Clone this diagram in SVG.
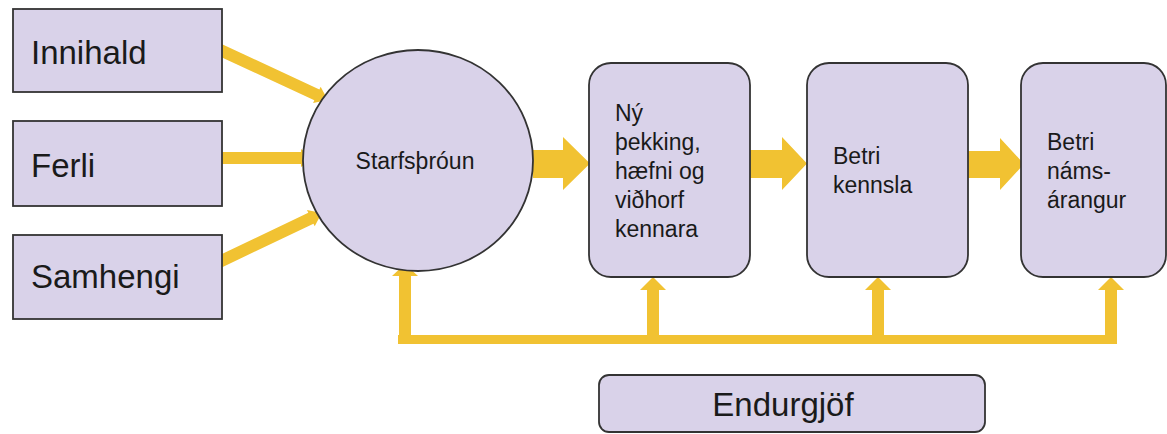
<svg xmlns="http://www.w3.org/2000/svg" width="1167" height="434" viewBox="0 0 1167 434">
<style>
.box{fill:#d9d2e9;stroke:#333;stroke-width:1.8}
.big{font-family:"Liberation Sans",Arial,sans-serif;font-size:33px;fill:#1a1a1a}
.mid{font-family:"Liberation Sans",Arial,sans-serif;font-size:23px;fill:#1a1a1a}
.arr{fill:#f1c232}
</style>
<rect width="1167" height="434" fill="#fff"/>
<g id="connectors">
<polygon class="arr" transform="translate(218,49) rotate(24.9)" points="0,-6 109,-6 109,-9 121,0 109,9 109,6 0,6"/>
<polygon class="arr" points="220,152 301,152 301,149 313,158 301,167 301,164 220,164"/>
<polygon class="arr" transform="translate(217,263) rotate(-25.5)" points="0,-6 104,-6 104,-9 116,0 104,9 104,6 0,6"/>
<polygon class="arr" points="533,150 563,150 563,137 590,163.5 563,190 563,178 533,178"/>
<polygon class="arr" points="750,150 782,150 782,137 807,163.5 782,190 782,178 750,178"/>
<polygon class="arr" points="968,151 1000,151 1000,138 1024,164 1000,190 1000,178 968,178"/>
<rect class="arr" x="398" y="335" width="719" height="9"/>
<rect class="arr" x="399" y="274" width="12" height="70"/>
<polygon class="arr" points="392,276 418,276 405,264"/>
<rect class="arr" x="647" y="288" width="12" height="56"/>
<polygon class="arr" points="640,290 666,290 653,277"/>
<rect class="arr" x="872" y="288" width="12" height="56"/>
<polygon class="arr" points="865,290 891,290 878,277"/>
<rect class="arr" x="1105" y="288" width="12" height="56"/>
<polygon class="arr" points="1098,290 1124,290 1111,277"/>
</g>
<g id="innihald"><rect class="box" x="13" y="9" width="209" height="83"/><text class="big" x="31" y="64">Innihald</text></g>
<g id="ferli"><rect class="box" x="13" y="121" width="209" height="85"/><text class="big" x="31" y="177">Ferli</text></g>
<g id="samhengi"><rect class="box" x="13" y="235" width="209" height="84"/><text class="big" x="31" y="288">Samhengi</text></g>
<g id="starfsthroun"><ellipse class="box" cx="418" cy="160.5" rx="115" ry="110.5"/><text class="mid" x="415" y="169" text-anchor="middle">Starfsþróun</text></g>
<g id="ny-thekking"><rect class="box" x="589" y="63" width="161" height="214" rx="22"/>
<text class="mid" x="615"><tspan x="615" y="121">Ný</tspan><tspan x="615" y="150">þekking,</tspan><tspan x="615" y="179">hæfni og</tspan><tspan x="615" y="208">viðhorf</tspan><tspan x="615" y="237">kennara</tspan></text></g>
<g id="betri-kennsla"><rect class="box" x="807" y="63" width="161" height="214" rx="22"/>
<text class="mid"><tspan x="833" y="164">Betri</tspan><tspan x="833" y="193">kennsla</tspan></text></g>
<g id="betri-namsarangur"><rect class="box" x="1021" y="63" width="145" height="214" rx="22"/>
<text class="mid"><tspan x="1047" y="150">Betri</tspan><tspan x="1047" y="179">náms-</tspan><tspan x="1047" y="208">árangur</tspan></text></g>
<g id="endurgjof"><rect class="box" x="599" y="375" width="386" height="57" rx="10"/><text class="big" x="783" y="416" text-anchor="middle" font-size="32">Endurgjöf</text></g>
</svg>
